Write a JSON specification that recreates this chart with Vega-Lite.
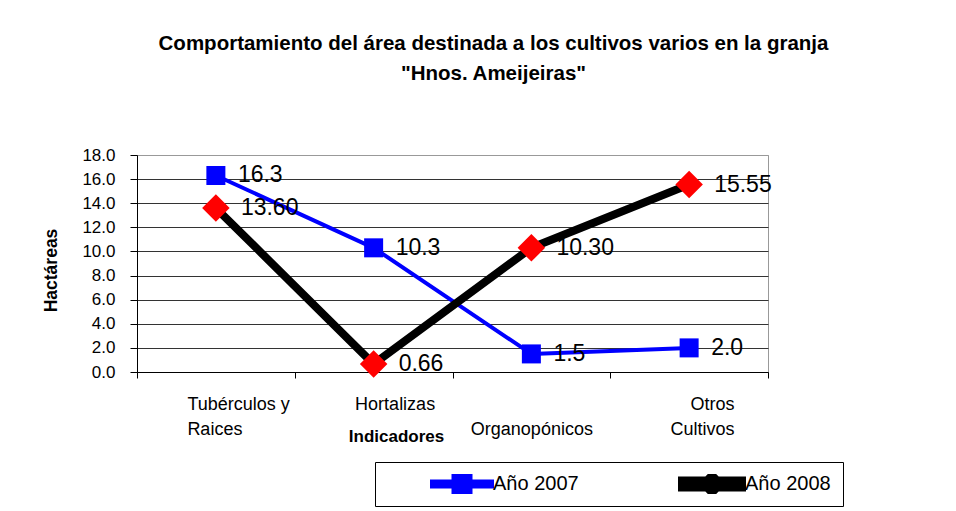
{
  "$schema": "https://vega.github.io/schema/vega-lite/v6.json",
  "width": 631,
  "height": 217,
  "autosize": {"type": "none"},
  "padding": {"left": 137, "top": 155, "right": 188, "bottom": 139},
  "background": "white",
  "config": {
    "view": {"stroke": "#999999", "strokeWidth": 1},
    "font": "Liberation Sans, Arial, sans-serif"
  },
  "title": {
    "text": ["Comportamiento del área destinada a los cultivos varios en la granja", "\"Hnos. Ameijeiras\""],
    "font": "Liberation Sans, Arial, sans-serif",
    "fontSize": 20.5,
    "fontWeight": "bold",
    "lineHeight": 30,
    "anchor": "middle",
    "dx": 41,
    "offset": 62,
    "color": "black"
  },
  "data": {
    "values": [
      {"cat": "Tubérculos y Raices", "serie": "Año 2007", "valor": 16.3},
      {"cat": "Hortalizas", "serie": "Año 2007", "valor": 10.3},
      {"cat": "Organopónicos", "serie": "Año 2007", "valor": 1.5},
      {"cat": "Otros Cultivos", "serie": "Año 2007", "valor": 2.0},
      {"cat": "Tubérculos y Raices", "serie": "Año 2008", "valor": 13.6},
      {"cat": "Hortalizas", "serie": "Año 2008", "valor": 0.66},
      {"cat": "Organopónicos", "serie": "Año 2008", "valor": 10.3},
      {"cat": "Otros Cultivos", "serie": "Año 2008", "valor": 15.55}
    ]
  },
  "encoding": {
    "x": {
      "field": "cat",
      "type": "nominal",
      "sort": ["Tubérculos y Raices", "Hortalizas", "Organopónicos", "Otros Cultivos"],
      "scale": {"type": "band", "paddingInner": 0, "paddingOuter": 0},
      "axis": {
        "tickBand": "extent",
        "domainColor": "black",
        "tickColor": "black",
        "tickSize": 6,
        "grid": false,
        "labelAngle": 0,
        "labelFont": "Liberation Sans, Arial, sans-serif",
        "labelFontSize": 18,
        "labelColor": "black",
        "labelLineHeight": 25,
        "labelPadding": 17,
        "labelBaseline": "top",
        "labelOverlap": false,
        "labelAlign": {"condition": [{"test": "datum.value == 'Tubérculos y Raices'", "value": "left"}, {"test": "datum.value == 'Otros Cultivos'", "value": "right"}], "value": "center"},
        "labelOffset": {"condition": [{"test": "datum.value == 'Tubérculos y Raices'", "value": -29}, {"test": "datum.value == 'Otros Cultivos'", "value": 45}, {"test": "datum.value == 'Hortalizas'", "value": 21}], "value": 0},
        "labelExpr": "datum.value == 'Tubérculos y Raices' ? ['Tubérculos  y', 'Raices'] : datum.value == 'Otros Cultivos' ? ['Otros', 'Cultivos'] : datum.value == 'Organopónicos' ? ['', 'Organopónicos'] : datum.label",
        "title": "Indicadores",
        "titleX": 259,
        "titleY": 64,
        "titleAlign": "center",
        "titleBaseline": "middle",
        "titleFont": "Liberation Sans, Arial, sans-serif",
        "titleFontSize": 17,
        "titleFontWeight": "bold",
        "titleColor": "black"
      }
    },
    "y": {
      "field": "valor",
      "type": "quantitative",
      "scale": {"domain": [0, 18], "nice": false},
      "axis": {
        "values": [0, 2, 4, 6, 8, 10, 12, 14, 16, 18],
        "format": ".1f",
        "grid": true,
        "gridColor": {"condition": {"test": "datum.value == 18", "value": "#999999"}, "value": "#333333"},
        "gridWidth": 1,
        "domainColor": "black",
        "tickColor": "black",
        "tickSize": 7,
        "labelPadding": 15,
        "labelFont": "Liberation Sans, Arial, sans-serif",
        "labelFontSize": 17,
        "labelColor": "black",
        "title": "Hactáreas",
        "titleX": -86,
        "titleY": 115,
        "titleAngle": -90,
        "titleAlign": "center",
        "titleBaseline": "middle",
        "titleFont": "Liberation Sans, Arial, sans-serif",
        "titleFontSize": 17.5,
        "titleFontWeight": "bold",
        "titleColor": "black"
      }
    }
  },
  "layer": [
    {
      "mark": {"type": "line", "strokeCap": "round", "strokeJoin": "round"},
      "encoding": {
        "color": {
          "field": "serie",
          "type": "nominal",
          "scale": {"domain": ["Año 2007", "Año 2008"], "range": ["#0000FF", "#000000"]},
          "legend": {
            "orient": "none",
            "legendX": 238,
            "legendY": 307,
            "direction": "horizontal",
            "title": null,
            "strokeColor": "black",
            "padding": 12,
            "symbolType": "M-3,-0.3H3V0.3H-3Z",
            "symbolSize": 400,
            "clipHeight": 20,
            "symbolOffset": 63,
            "columnPadding": 56,
            "labelFont": "Liberation Sans, Arial, sans-serif",
            "labelFontSize": 20,
            "labelColor": "black",
            "labelOffset": 19,
            "encode": {
              "symbols": {
                "update": {
                  "shape": [
                    {"test": "datum.value == 'Año 2007'", "value": "M-3,-0.25H3V0.25H-3ZM-0.85,-0.85H0.85V0.85H-0.85Z"},
                    {"value": "M-3,-0.35H3V0.35H-3ZM0,-0.85L0.85,0L0,0.85L-0.85,0Z"}
                  ],
                  "fill": [
                    {"test": "datum.value == 'Año 2007'", "value": "#0000FF"},
                    {"value": {"gradient": "linear", "x1": 0, "y1": 0, "x2": 1, "y2": 0, "stops": [
                      {"offset": 0, "color": "#000000"},
                      {"offset": 0.357, "color": "#000000"},
                      {"offset": 0.359, "color": "#FF0000"},
                      {"offset": 0.641, "color": "#FF0000"},
                      {"offset": 0.643, "color": "#000000"},
                      {"offset": 1, "color": "#000000"}
                    ]}}
                  ],
                  "fillOpacity": {"value": 1},
                  "opacity": {"value": 1},
                  "stroke": {"value": "transparent"},
                  "strokeWidth": {"value": 0}
                }
              }
            }
          }
        },
        "strokeWidth": {
          "field": "serie",
          "type": "ordinal",
          "scale": {"domain": ["Año 2007", "Año 2008"], "range": [4, 8]},
          "legend": null
        }
      }
    },
    {
      "mark": {"type": "point", "filled": true, "opacity": 1, "strokeWidth": 0},
      "encoding": {
        "fill": {
          "field": "serie",
          "type": "nominal",
          "scale": {"range": ["#0000FF", "#FF0000"]},
          "legend": null
        },
        "shape": {
          "field": "serie",
          "type": "nominal",
          "scale": {"range": ["M-0.85,-0.85H0.85V0.85H-0.85Z", "M0,-0.85L0.85,0L0,0.85L-0.85,0Z"]},
          "legend": null
        },
        "size": {
          "field": "serie",
          "type": "ordinal",
          "scale": {"range": [500, 1050]},
          "legend": null
        }
      }
    },
    {
      "transform": [{"filter": "datum.serie == 'Año 2007'"}],
      "mark": {"type": "text", "align": "left", "baseline": "middle", "dx": 22, "fontSize": 23, "font": "Liberation Sans, Arial, sans-serif", "color": "black"},
      "encoding": {"text": {"field": "valor", "type": "quantitative", "format": ".1f"}}
    },
    {
      "transform": [{"filter": "datum.serie == 'Año 2008'"}],
      "mark": {"type": "text", "align": "left", "baseline": "middle", "dx": 25, "fontSize": 23, "font": "Liberation Sans, Arial, sans-serif", "color": "black"},
      "encoding": {"text": {"field": "valor", "type": "quantitative", "format": ".2f"}}
    }
  ]
}
